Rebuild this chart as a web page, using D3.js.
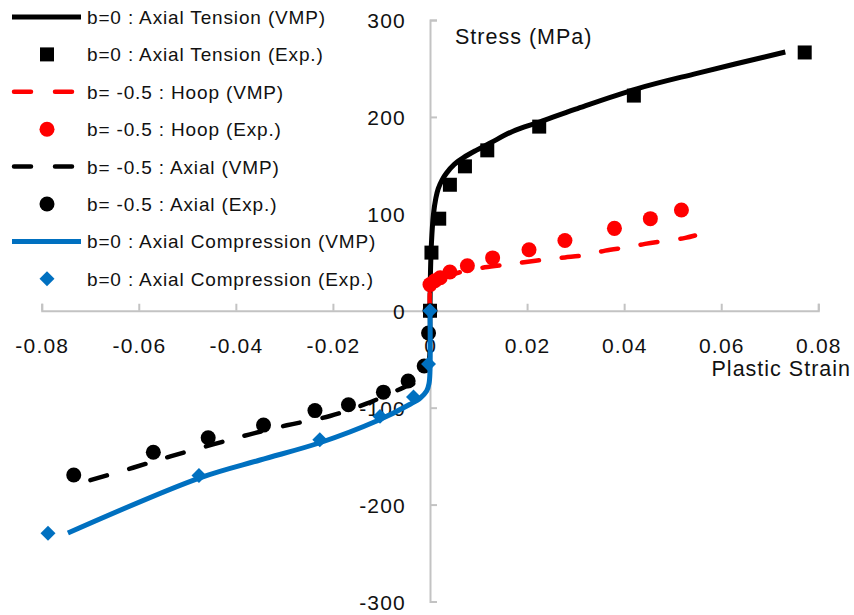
<!DOCTYPE html>
<html>
<head>
<meta charset="utf-8">
<script src="https://cdn.jsdelivr.net/npm/d3@7"></script>
<style>
  html, body { margin: 0; padding: 0; background: #fff; }
  svg { display: block; font-family: "Liberation Sans", Arial, Helvetica, sans-serif; }
</style>
</head>
<body>
<svg id="chart" width="854" height="615"></svg>
<script>
// Stress vs plastic strain for the different loading paths (model vs experiment)
const xTicks = [-0.08, -0.06, -0.04, -0.02, 0, 0.02, 0.04, 0.06, 0.08];
const yTicks = [-300, -200, -100, 0, 100, 200, 300];

// b=0 : axial tension
const tensionVMP = [[0,0],[0.0001,40],[0.0003,70],[0.0007,99],[0.0012,116],[0.0017,126],[0.0025,135],[0.0034,142],[0.005,151],[0.0069,158],[0.0095,165.5],[0.0124,173],[0.017,185],[0.0227,195],[0.03,208],[0.0426,229],[0.055,245],[0.0732,267]];
const tensionExp = [[0,0],[0.0003,60],[0.0019,95],[0.0041,130],[0.0072,149],[0.0118,165.5],[0.0225,190],[0.042,222],[0.0772,266.5]];

// b=-0.5 : hoop
const hoopVMP = [[0,0],[0,20],[0.0004,26],[0.0015,31],[0.003,35],[0.006,39.5],[0.0113,44.8],[0.0157,47.6],[0.0194,50],[0.024,53],[0.0278,55],[0.0322,57.6],[0.0361,62],[0.0406,65.5],[0.0443,69],[0.0487,72.4],[0.0526,75.2],[0.0546,77.6]];
const hoopExp = [[0,27],[0.001,31],[0.0021,34],[0.0041,40],[0.0077,46.5],[0.0129,54.5],[0.0204,63],[0.0278,72.5],[0.038,85],[0.0454,95],[0.0518,104]];

// b=-0.5 : axial
const axialVMP = [[0,0],[0,-30],[-0.0003,-55],[-0.001,-66],[-0.0025,-73],[-0.0055,-79.3],[-0.0131,-95.9],[-0.0206,-108.6],[-0.0295,-118.2],[-0.0371,-127.5],[-0.0447,-137.9],[-0.0533,-150],[-0.0612,-162],[-0.0707,-175.9]];
const axialExp = [[0,0],[-0.0003,-23],[-0.0012,-57],[-0.0045,-72.5],[-0.0096,-84],[-0.0168,-97],[-0.0237,-103],[-0.0343,-118],[-0.0457,-131],[-0.057,-146],[-0.0734,-169.5]];

// b=0 : axial compression
const compVMP = [[0,0],[0,-62],[-0.0002,-75],[-0.0007,-82.8],[-0.002,-90],[-0.0041,-96.5],[-0.011,-113.8],[-0.0227,-136.2],[-0.035,-154],[-0.0474,-172.4],[-0.0746,-229.3]];
const compExp = [[0,0],[-0.0003,-55],[-0.0034,-89],[-0.0103,-109],[-0.0227,-133],[-0.0476,-170],[-0.0787,-229.5]];

const legendLabels = [
  "b=0 : Axial Tension (VMP)",
  "b=0 : Axial Tension (Exp.)",
  "b= -0.5 : Hoop (VMP)",
  "b= -0.5 : Hoop (Exp.)",
  "b= -0.5 : Axial (VMP)",
  "b= -0.5 : Axial (Exp.)",
  "b=0 : Axial Compression (VMP)",
  "b=0 : Axial Compression (Exp.)"
];

const BLACK = "#000000", RED = "#ff0000", BLUE = "#0070c0";
const AXIS = "#c3c3c3", TEXT = "#111111";

const svg = d3.select("#chart");
const x = d3.scaleLinear().domain([-0.08, 0.08]).range([41.7, 818.3]);
const y = d3.scaleLinear().domain([-300, 300]).range([601.5, 20]);

// axes crossing at the origin
const xAxis = svg.append("g")
  .attr("transform", `translate(0,${y(0)})`)
  .call(d3.axisTop(x).tickValues(xTicks).tickSize(7).tickSizeOuter(7).tickFormat(""));
const yAxis = svg.append("g")
  .attr("transform", `translate(${x(0)},0)`)
  .call(d3.axisRight(y).tickValues(yTicks).tickSize(7).tickSizeOuter(7).tickFormat(""));
[xAxis, yAxis].forEach(g => {
  g.selectAll("path, line").attr("stroke", AXIS).attr("stroke-width", 2);
});

// tick labels
svg.append("g").selectAll("text").data(xTicks).join("text")
  .attr("x", d => x(d) + 0.6)
  .attr("y", 353)
  .attr("text-anchor", "middle")
  .attr("font-size", 21)
  .attr("letter-spacing", 1.2)
  .attr("fill", TEXT)
  .text(d => d === 0 ? "0" : d.toFixed(2));

svg.append("g").selectAll("text").data(yTicks).join("text")
  .attr("x", 406)
  .attr("y", d => y(d) + 8)
  .attr("text-anchor", "end")
  .attr("font-size", 21)
  .attr("letter-spacing", 1.2)
  .attr("fill", TEXT)
  .text(d => String(d));

// axis titles
svg.append("text").attr("x", 455).attr("y", 44)
  .attr("font-size", 21.5).attr("letter-spacing", 1).attr("fill", TEXT)
  .text("Stress (MPa)");
svg.append("text").attr("x", 851).attr("y", 376).attr("text-anchor", "end")
  .attr("font-size", 21.5).attr("letter-spacing", 1).attr("fill", TEXT)
  .text("Plastic Strain");

// series drawing helpers
const line = d3.line().x(d => x(d[0])).y(d => y(d[1])).curve(d3.curveCatmullRom.alpha(0.5));
const plot = svg.append("g");

// marker shapes: square, circle and a square turned 45° for the diamond
const markers = {
  square: {type: d3.symbolSquare, size: 196, rotate: 0},
  circle: {type: d3.symbolCircle, size: 177, rotate: 0},
  diamond: {type: d3.symbolSquare, size: 112, rotate: 45}
};

function drawLine(data, color, width, dash) {
  plot.append("path").datum(data)
    .attr("d", line)
    .attr("fill", "none")
    .attr("stroke", color)
    .attr("stroke-width", width)
    .attr("stroke-linecap", dash ? "round" : "butt")
    .attr("stroke-linejoin", "round")
    .attr("stroke-dasharray", dash || null);
}
function drawMarkers(data, color, m) {
  plot.append("g").selectAll("path").data(data).join("path")
    .attr("transform", d => `translate(${x(d[0])},${y(d[1])}) rotate(${m.rotate})`)
    .attr("d", d3.symbol().type(m.type).size(m.size))
    .attr("fill", color);
}

const DASH = "17,23";
drawLine(tensionVMP, BLACK, 5);
drawMarkers(tensionExp, BLACK, markers.square);
drawLine(hoopVMP, RED, 4.5, DASH);
drawMarkers(hoopExp, RED, markers.circle);
drawLine(axialVMP, BLACK, 4.5, DASH);
drawMarkers(axialExp, BLACK, markers.circle);
drawLine(compVMP, BLUE, 5, null);
drawMarkers(compExp, BLUE, markers.diamond);

// legend
const legendItems = [
  {kind: "line", color: BLACK},
  {kind: "mark", color: BLACK, m: markers.square},
  {kind: "dash", color: RED},
  {kind: "mark", color: RED, m: markers.circle},
  {kind: "dash", color: BLACK},
  {kind: "mark", color: BLACK, m: markers.circle},
  {kind: "line", color: BLUE},
  {kind: "mark", color: BLUE, m: markers.diamond}
];
const legend = svg.append("g");
legendItems.forEach((it, i) => {
  const cy = 17 + i * 37.4;
  if (it.kind === "line") {
    legend.append("line").attr("x1", 12).attr("x2", 81).attr("y1", cy).attr("y2", cy)
      .attr("stroke", it.color).attr("stroke-width", 5);
  } else if (it.kind === "dash") {
    legend.append("line").attr("x1", 14).attr("x2", 74).attr("y1", cy).attr("y2", cy)
      .attr("stroke", it.color).attr("stroke-width", 4.5)
      .attr("stroke-linecap", "round").attr("stroke-dasharray", "17,24");
  } else {
    legend.append("path").attr("transform", `translate(47,${cy}) rotate(${it.m.rotate})`)
      .attr("d", d3.symbol().type(it.m.type).size(it.m.size)).attr("fill", it.color);
  }
  legend.append("text").attr("x", 87).attr("y", cy + 7)
    .attr("font-size", 19).attr("letter-spacing", 0.85).attr("fill", TEXT)
    .text(legendLabels[i]);
});
</script>
</body>
</html>
